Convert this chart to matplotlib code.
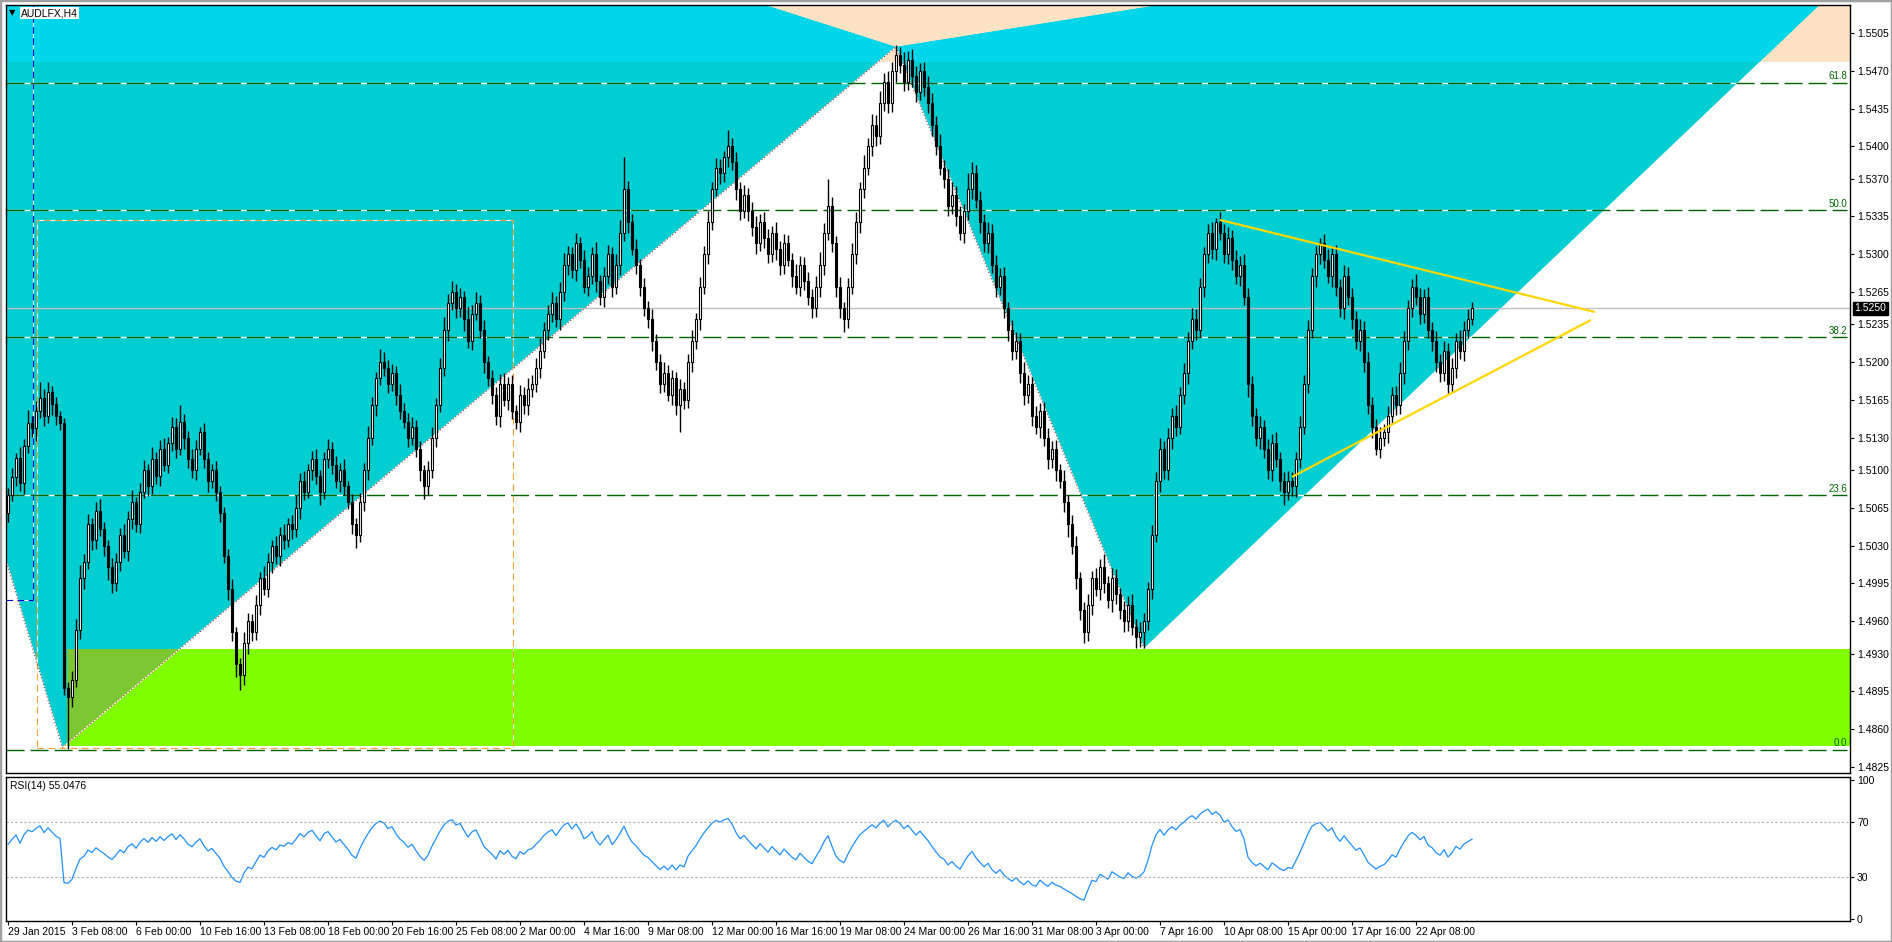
import numpy as np
import matplotlib
matplotlib.use('Agg')
import matplotlib.pyplot as plt
import matplotlib.transforms as mtransforms
from matplotlib.patches import Polygon, Rectangle

plt.rcParams['font.family'] = ['Liberation Sans', 'DejaVu Sans']

# ---- data (prices in pips above 1.4800, H4 bars) ----
base = 1.48
open_first = 260
closes_pip = [
    277, 294, 311, 288, 322, 344, 339, 355, 367, 350,
    372, 361, 350, 344, 98, 90, 106, 152, 200, 215,
    250, 235, 262, 245, 230, 210, 195, 215, 240, 225,
    255, 270, 250, 280, 300, 285, 310, 295, 320, 305,
    325, 340, 320, 345, 330, 310, 300, 320, 335, 310,
    290, 300, 280, 260, 220, 190, 150, 120, 110, 140,
    160, 150, 175, 200, 190, 215, 230, 220, 240, 235,
    250, 245, 265, 290, 280, 300, 310, 295, 280, 310,
    320, 305, 290, 300, 285, 270, 250, 240, 270, 300,
    330, 360, 385, 400, 395, 380, 390, 370, 355, 345,
    330, 340, 320, 300, 285, 300, 330, 360, 395, 430,
    455, 465, 450, 460, 440, 420, 445, 455, 430, 400,
    385, 370, 350, 380, 365, 380, 355, 345, 370, 360,
    375, 380, 395, 410, 430, 445, 455, 440, 465, 490,
    500, 485, 510, 495, 470, 480, 500, 475, 460, 480,
    500, 470, 490, 520, 560, 530, 505, 490, 470, 450,
    440, 420, 400, 380, 390, 370, 385, 360, 375, 365,
    400, 420, 440, 470, 500, 530, 560, 580, 575, 590,
    600, 585, 560, 540, 555, 540, 525, 510, 530, 515,
    500, 520, 505, 490, 510, 495, 480, 470, 490, 475,
    460, 450, 470, 490, 520, 545, 510, 470, 450, 440,
    470, 500, 530, 560, 580, 600, 620, 610, 640, 660,
    640, 670, 685, 675, 660, 680, 665, 650, 670, 655,
    640, 620, 600, 580, 570, 545, 555, 535, 520, 540,
    560, 575, 550, 530, 510, 520, 490, 470, 480, 450,
    430, 410, 420, 390, 370, 380, 350, 340, 355, 330,
    310, 320, 300, 290, 270, 250, 230, 200, 170, 150,
    175, 200, 190, 210, 195, 180, 200, 185, 170, 160,
    175, 155, 145, 150, 160, 190, 240, 290, 320, 300,
    330, 350, 340, 370, 390, 420, 440, 430, 470, 500,
    520, 505, 530, 520, 500, 515, 495, 480, 490, 460,
    380, 350, 330, 340, 320, 300, 325, 310, 290, 280,
    290, 285, 310, 340, 380, 430, 480, 500, 510, 495,
    480, 500, 470, 450, 480, 460, 440, 420, 430, 400,
    360, 340, 320, 330, 335, 350, 370, 360, 390, 420,
    450, 470, 460, 445, 460, 430, 420, 400, 390, 410,
    380, 395, 420, 410, 430, 440, 450,
]
up_wick = [
    6, 8, 5, 10, 7, 12, 6, 9, 15, 8, 10, 6, 7, 5, 4, 6, 8, 10, 12, 7,
    9, 6, 8, 11, 7, 5, 9, 8, 6, 10, 7, 12, 5, 8, 9, 6, 11, 7, 8, 10,
    6, 9, 8, 15, 7, 6, 10, 8, 5, 9, 7, 6, 8, 5, 6, 7, 9, 5, 6, 10,
    8, 7, 9, 6, 11, 8, 5, 9, 7, 10, 6, 8, 12, 7, 9, 6, 8, 10, 5, 7,
    9, 6, 8, 7, 10, 5, 8, 6, 9, 7, 11, 8, 6, 12, 9, 7, 8, 6, 10, 7,
    8, 9, 6, 7, 5, 8, 10, 7, 9, 12, 8, 10, 7, 9, 6, 11, 8, 10, 7, 9,
    6, 8, 7, 9, 10, 6, 8, 5, 9, 7, 10, 8, 9, 12, 7, 8, 10, 6, 9, 11,
    8, 7, 10, 6, 9, 8, 7, 11, 6, 8, 9, 7, 10, 12, 30, 8, 7, 9, 6, 8,
    7, 9, 6, 8, 10, 7, 8, 6, 9, 7, 8, 10, 6, 9, 8, 10, 7, 9, 8, 6,
    15, 8, 10, 7, 9, 6, 8, 10, 7, 9, 8, 6, 10, 7, 9, 8, 6, 11, 8, 7,
    9, 8, 10, 12, 9, 25, 8, 7, 9, 6, 8, 10, 9, 7, 12, 8, 10, 9, 11, 8,
    10, 8, 9, 7, 12, 8, 10, 9, 7, 8, 10, 9, 8, 11, 7, 9, 12, 8, 10, 7,
    15, 10, 8, 9, 7, 10, 8, 9, 7, 8, 6, 9, 8, 7, 10, 8, 6, 9, 7, 8,
    9, 7, 8, 6, 10, 7, 8, 9, 6, 8, 10, 7, 9, 8, 12, 7, 9, 8, 6, 9,
    8, 10, 7, 9, 8, 6, 9, 8, 10, 7, 9, 8, 10, 7, 9, 8, 10, 9, 8, 7,
    8, 10, 4, 9, 8, 10, 7, 9, 8, 10, 9, 7, 8, 10, 6, 9, 8, 10, 7, 8,
    9, 8, 7, 10, 8, 9, 7, 8, 5, 9, 10, 8, 9, 7, 10, 8, 9, 7, 10, 8,
    9, 8, 7, 10, 8, 9, 7, 8, 10, 9, 8, 7, 12, 9, 8, 10, 7, 9, 8, 10,
    8, 9, 7, 10, 8, 9, 6,
]
dn_wick = [
    8, 6, 9, 7, 10, 6, 8, 12, 7, 9, 6, 10, 8, 7, 6, 48, 9, 7, 8, 10,
    7, 9, 8, 6, 10, 12, 9, 7, 8, 6, 9, 10, 7, 8, 6, 9, 7, 8, 10, 6,
    8, 7, 9, 6, 10, 8, 7, 9, 6, 8, 10, 7, 9, 8, 6, 10, 8, 12, 14, 9,
    10, 8, 7, 9, 6, 8, 10, 7, 9, 8, 6, 9, 7, 10, 8, 6, 9, 8, 12, 7,
    8, 9, 7, 10, 8, 6, 9, 12, 7, 8, 9, 7, 10, 6, 8, 9, 7, 10, 8, 6,
    9, 7, 8, 10, 12, 8, 7, 9, 6, 8, 10, 7, 9, 8, 11, 7, 9, 6, 8, 10,
    7, 9, 8, 10, 6, 9, 8, 7, 10, 8, 9, 7, 8, 10, 6, 9, 8, 7, 10, 8,
    9, 7, 10, 8, 6, 9, 8, 10, 7, 9, 8, 10, 7, 9, 8, 10, 6, 8, 9, 7,
    8, 10, 7, 9, 8, 6, 10, 9, 25, 8, 7, 9, 8, 10, 7, 9, 8, 6, 10, 8,
    9, 7, 10, 8, 6, 9, 8, 10, 7, 9, 8, 7, 10, 9, 8, 6, 10, 7, 9, 8,
    7, 9, 8, 10, 9, 7, 8, 10, 9, 12, 8, 7, 9, 10, 8, 7, 9, 10, 8, 7,
    9, 8, 10, 7, 9, 8, 10, 9, 7, 8, 9, 10, 8, 7, 9, 10, 8, 9, 7, 10,
    8, 9, 7, 10, 8, 9, 7, 10, 8, 9, 10, 8, 7, 9, 10, 8, 9, 7, 10, 8,
    9, 8, 10, 7, 9, 12, 8, 10, 9, 10, 8, 9, 7, 10, 9, 8, 11, 9, 8, 10,
    9, 8, 10, 9, 15, 8, 9, 7, 10, 8, 9, 10, 8, 7, 9, 10, 8, 9, 7, 10,
    8, 9, 10, 7, 8, 9, 10, 8, 9, 7, 12, 9, 8, 10, 9, 8, 10, 7, 9, 12,
    8, 9, 10, 8, 7, 9, 8, 10, 9, 8, 7, 10, 9, 8, 10, 7, 9, 8, 10, 9,
    8, 10, 6, 9, 8, 10, 7, 9, 8, 10, 9, 8, 7, 10, 9, 8, 10, 9, 8, 7,
    9, 8, 10, 7, 9, 8, 6,
]

date_labels = ["29 Jan 2015", "3 Feb 08:00", "6 Feb 00:00", "10 Feb 16:00", "13 Feb 08:00",
               "18 Feb 00:00", "20 Feb 16:00", "25 Feb 08:00", "2 Mar 00:00", "4 Mar 16:00",
               "9 Mar 08:00", "12 Mar 00:00", "16 Mar 16:00", "19 Mar 08:00", "24 Mar 00:00",
               "26 Mar 16:00", "31 Mar 08:00", "3 Apr 00:00", "7 Apr 16:00", "10 Apr 08:00",
               "15 Apr 00:00", "17 Apr 16:00", "22 Apr 08:00"]
label_step = 16

price_ticks = [1.5505, 1.5470, 1.5435, 1.5400, 1.5370, 1.5335, 1.5300, 1.5265, 1.5235,
               1.5200, 1.5165, 1.5130, 1.5100, 1.5065, 1.5030, 1.4995, 1.4960, 1.4930,
               1.4895, 1.4860, 1.4825]
last_price = 1.5250

fib_low, fib_high = 1.4841, 1.5841
fib_ratios = [0.0, 0.236, 0.382, 0.5, 0.618]
fib_names = ["0.0", "23.6", "38.2", "50.0", "61.8"]

# drawn objects (bar index, price)
tri1 = [(-67, 1.5835), (13.6, 1.4843), (222, 1.5492)]
tri2 = [(222, 1.5492), (284, 1.4935), (486, 1.5648)]
band_low = 1.5478
green_box = (14.75, 1.48444, 1.49343)          # left, bottom, top
orange_box = (7.25, 126.25, 1.4843, 1.5332)    # left, right, bottom, top
cross_pt = (6.25, 1.4980)
yellow_up = [(303, 1.53318), (396.75, 1.52465)]
yellow_dn = [(321, 1.50937), (395.75, 1.52391)]

rsi_period = 14
rsi_seed = 0.0008   # starting average move for the Wilder averages (history before first bar)
rsi_text = "RSI(14) 55.0476"

# ---- derived OHLC ----
c = np.array(closes_pip, dtype=float)
o = np.r_[open_first, c[:-1]]
hi = np.maximum(o, c) + np.array(up_wick)
lo = np.minimum(o, c) - np.array(dn_wick)
c, o, hi, lo = [v / 10000 + base for v in (c, o, hi, lo)]
x = np.arange(len(c))

# Wilder RSI
avg_g, avg_l = rsi_seed, rsi_seed
rsi = []
prev = o[0]
for price in c:
    d = price - prev
    prev = price
    avg_g = (avg_g * (rsi_period - 1) + max(d, 0)) / rsi_period
    avg_l = (avg_l * (rsi_period - 1) + max(-d, 0)) / rsi_period
    rsi.append(100 - 100 / (1 + avg_g / avg_l))
rsi = np.array(rsi)

# ---- figure ----
W, H = 1892, 942
fig = plt.figure(figsize=(W / 100, H / 100), dpi=100)
fig.patch.set_facecolor('white')


def px_axes(l, t, r, b):
    return fig.add_axes([l / W, 1 - b / H, (r - l) / W, (b - t) / H])


ax = px_axes(6, 5, 1850, 773)
ar = px_axes(6, 777, 1850, 921)

XL = (-0.5, 460.5)
YL = (1.48194, 1.55309)
ax.set_xlim(XL)
ax.set_ylim(YL)

turq = '#00CED1'
cyan2 = '#00D6EA'
bisque = '#FDE3C3'
green = '#80FF00'
olive = '#7CC832'

ax.add_patch(Rectangle((XL[0], band_low), XL[1] - XL[0], YL[1] - band_low,
                       fc=bisque, ec='none', zorder=0.1))
band_clip = Rectangle((XL[0], band_low), XL[1] - XL[0], YL[1] - band_low,
                      transform=ax.transData)
for tri in (tri1, tri2):
    ax.add_patch(Polygon(tri, closed=True, fc=turq, ec='none', zorder=0.2))
    p = Polygon(tri, closed=True, fc=cyan2, ec='none', zorder=0.3)
    ax.add_patch(p)
    p.set_clip_path(band_clip)

gl, gb, gt = green_box
ax.add_patch(Rectangle((gl, gb), XL[1] - gl, gt - gb, fc=green, ec='none', zorder=0.4))
green_clip = Rectangle((gl, gb), XL[1] - gl, gt - gb, transform=ax.transData)
p = Polygon(tri1, closed=True, fc=olive, ec='none', zorder=0.5)
ax.add_patch(p)
p.set_clip_path(green_clip)

# orange dashed box
ol, orr, ob, ot = orange_box
bx = [ol, orr, orr, ol, ol]
by = [ob, ob, ot, ot, ob]
ax.plot(bx, by, color='white', lw=0.8, zorder=1)
ax.plot(bx, by, color='#F5A02A', lw=0.8, ls=(0, (6, 4)), zorder=1.1)

# blue cross
cx, cy = cross_pt
for xs, ys in (([cx, cx], [cy, YL[1]]), ([XL[0], cx], [cy, cy])):
    ax.plot(xs, ys, color='white', lw=0.8, zorder=1)
    ax.plot(xs, ys, color='#0000CD', lw=0.8, ls=(0, (6, 4)), zorder=1.1)

# dotted triangle edges
for p1, p2 in ((tri1[0], tri1[1]), (tri1[1], tri1[2]), (tri2[0], tri2[1])):
    ax.plot([p1[0], p2[0]], [p1[1], p2[1]], color='white', lw=0.8, zorder=1)
    ax.plot([p1[0], p2[0]], [p1[1], p2[1]], color='#B03030', lw=0.8,
            ls=(0, (1, 2)), zorder=1.1)

# fibonacci levels
for r, name in zip(fib_ratios, fib_names):
    lv = fib_low + r * (fib_high - fib_low)
    ax.plot([XL[0], 459.8], [lv, lv], color='white', lw=1, zorder=1.2)
    ax.plot([XL[0], 459.8], [lv, lv], color='#006400', lw=1, ls=(0, (13, 4.3)), zorder=1.3)
    ax.text(459.8, lv + 0.00012, name, color='#006400', fontsize=7,
            ha='right', va='bottom', zorder=1.4)

ax.axhline(last_price, color='#C0C0C0', lw=1, zorder=1.5)

# candles
up = c >= o
ax.vlines(x, lo, hi, color='black', lw=1.0, zorder=3)
body_h = np.maximum(np.abs(c - o), 0.00004)
ax.bar(x[up], body_h[up], bottom=np.minimum(o, c)[up], width=0.66,
       color='white', edgecolor='black', lw=0.8, zorder=3.1)
ax.bar(x[~up], body_h[~up], bottom=np.minimum(o, c)[~up], width=0.66,
       color='black', edgecolor='black', lw=0.8, zorder=3.1)

# yellow triangle lines
for seg in (yellow_up, yellow_dn):
    ax.plot([seg[0][0], seg[1][0]], [seg[0][1], seg[1][1]], color='#FFD700',
            lw=1.6, zorder=4, solid_capstyle='butt')

ax.set_xticks([])
ax.yaxis.tick_right()
ax.set_yticks(price_ticks)
ax.set_yticklabels(['%.4f' % v for v in price_ticks])
ax.tick_params(axis='y', length=3, width=0.8, pad=2, labelsize=7.5, colors='black')
for s in ax.spines.values():
    s.set_linewidth(1.0)
    s.set_color('black')

trans = mtransforms.blended_transform_factory(ax.transAxes, ax.transData)
ax.annotate('%.4f' % last_price, xy=(1.0, last_price), xycoords=trans,
            xytext=(3, 0), textcoords='offset points', ha='left', va='center',
            fontsize=7.5, color='white',
            bbox=dict(boxstyle='square,pad=0.15', fc='black', ec='black'))

fig.text(12 / W, 1 - 13 / H, '\u25bc', fontsize=6, family='DejaVu Sans',
         ha='center', va='center')
fig.text(21 / W, 1 - 13 / H, 'AUDLFX,H4', fontsize=7.5, ha='left', va='center',
         bbox=dict(boxstyle='square,pad=0.1', fc='white', ec='none'))

# RSI panel
ar.set_xlim(XL)
ar.set_ylim(-1.44, 102.16)
ar.plot(x, rsi, color='#1E90FF', lw=0.9)
for lvl in (70, 30):
    ar.axhline(lvl, color='#B0B0B0', lw=0.8, ls=(0, (2, 2)))
ar.yaxis.tick_right()
ar.set_yticks([100, 70, 30, 0])
ar.set_yticklabels(['100', '70', '30', '0'])
ar.tick_params(axis='y', length=3, width=0.8, pad=2, labelsize=7.5)
ar.text(0.002, 0.975, rsi_text, transform=ar.transAxes, fontsize=7.5,
        ha='left', va='top')
ar.set_xticks(np.arange(len(date_labels)) * label_step)
ar.set_xticklabels(date_labels, ha='left')
ar.tick_params(axis='x', length=3, width=0.8, pad=1, labelsize=7.5)
for s in ar.spines.values():
    s.set_linewidth(1.0)
    s.set_color('black')

fig.patches.append(Rectangle((0, 0), 1, 1, transform=fig.transFigure, fill=False,
                             ec='#A0A0A0', lw=2.5))

fig.savefig('out.png', dpi=100)
